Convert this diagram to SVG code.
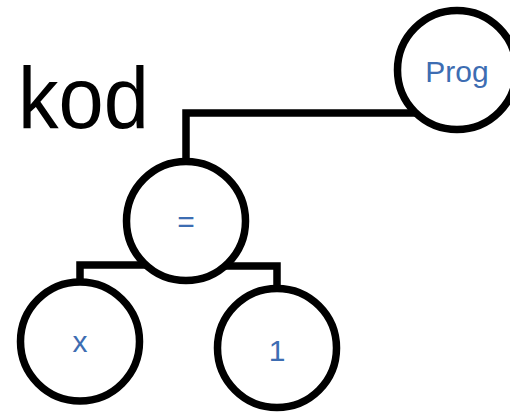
<svg xmlns="http://www.w3.org/2000/svg" width="510" height="413" viewBox="0 0 510 413">
  <style>
    .edge { fill: none; stroke: #000; stroke-width: 7.5; stroke-linejoin: miter; }
    .node circle { fill: #fff; stroke: #000; stroke-width: 7.5; }
    .node text { font-family: "Liberation Sans", Arial, sans-serif; font-size: 30px; fill: #3d6db2; text-anchor: middle; }
    .title { font-family: "Liberation Sans", Arial, sans-serif; font-size: 88px; fill: #000; }
  </style>
  <rect width="510" height="413" fill="#fff"/>
  <text class="title" x="18" y="128" textLength="131" lengthAdjust="spacingAndGlyphs">kod</text>
  <g id="connectors">
    <polyline class="edge" points="440,113 186,113 186,221"/>
    <polyline class="edge" points="186,265 80,265 80,341"/>
    <polyline class="edge" points="186,266 277,266 277,348"/>
  </g>
  <g id="node-prog" class="node">
    <circle cx="457" cy="70" r="59.5"/>
    <text x="457" y="82">Prog</text>
  </g>
  <g id="node-assign" class="node">
    <circle cx="186" cy="221" r="59.5"/>
    <text x="186" y="232">=</text>
  </g>
  <g id="node-x" class="node">
    <circle cx="80" cy="341.5" r="59.5"/>
    <text x="80" y="352">x</text>
  </g>
  <g id="node-1" class="node">
    <circle cx="277" cy="348" r="59.5"/>
    <text x="277" y="361">1</text>
  </g>
</svg>
